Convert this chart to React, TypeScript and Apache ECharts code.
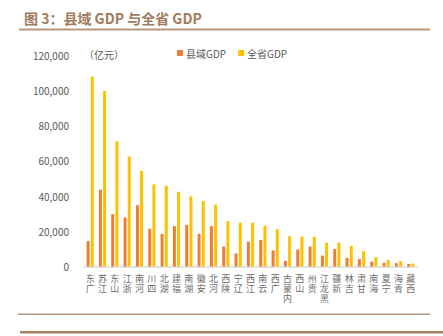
import React, { useEffect, useRef } from "react";
import * as echarts from "echarts";

const provinces = ["广东", "江苏", "山东", "浙江", "河南", "四川", "湖北", "福建", "湖南", "安徽", "河北", "陕西", "辽宁", "江西", "云南", "广西", "内蒙古", "山西", "贵州", "黑龙江", "新疆", "吉林", "甘肃", "海南", "宁夏", "青海", "西藏"];
const countyGDP = [14500, 43600, 29700, 27800, 34800, 21400, 18500, 22900, 23600, 18500, 22900, 11300, 7400, 14100, 15100, 9100, 3200, 9600, 11300, 6200, 9900, 4900, 4200, 2700, 2100, 1900, 1500];
const provinceGDP = [107700, 99600, 71100, 62400, 54300, 46600, 45800, 42400, 39800, 37100, 35100, 25800, 24900, 24800, 23200, 21200, 17200, 17000, 16800, 13600, 13600, 11700, 8700, 5300, 3700, 3000, 1700];
const yTicks = [0, 20000, 40000, 60000, 80000, 100000, 120000];

const FONT = "'Noto Sans CJK SC', 'Noto Sans', sans-serif";

// Labels are written bottom-to-top with upright characters: row r (from the axis) shows
// the r-th character counted from the end of the name.
const rowChar = (name: string, row: number) => {
  const chars = name.split("").reverse();
  return chars[row] ?? "";
};

const makeXAxis = (row: number) => ({
  type: "category",
  data: provinces,
  position: "bottom",
  axisLine: row === 0 ? { show: true, lineStyle: { color: "#D9D9D9", width: 1.5 } } : { show: false },
  axisTick: { show: false },
  splitLine: { show: false },
  axisLabel: {
    interval: 0,
    margin: 7 + row * 10,
    fontFamily: FONT,
    fontSize: 9,
    color: "#6E6E6E",
    verticalAlign: "top",
    formatter: (v: string) => rowChar(v, row),
  },
});

export default function App() {
  const ref = useRef<HTMLDivElement>(null);
  useEffect(() => {
    if (!ref.current) return;
    const chart = echarts.init(ref.current, undefined, { renderer: "svg" });
    chart.setOption({
      animation: false,
      backgroundColor: "#ffffff",
      title: {
        text: "图 3：县域 GDP 与全省 GDP",
        left: 19,
        top: 6,
        textStyle: { fontFamily: FONT, fontSize: 14, fontWeight: "bold", color: "#A07B5C" },
      },
      legend: {
        top: 43,
        left: 172,
        itemWidth: 6,
        itemHeight: 6,
        itemGap: 12,
        icon: "rect",
        textStyle: { fontFamily: FONT, fontSize: 10, color: "#595959", padding: [0, 0, 0, -2] },
        data: ["县域GDP", "全省GDP"],
      },
      graphic: [
        { type: "rect", shape: { x: 19, y: 28.5, width: 411, height: 2 }, style: { fill: "#B8977A" } },
        { type: "rect", shape: { x: 18, y: 313.5, width: 412, height: 1.5 }, style: { fill: "#B8977A" } },
        { type: "rect", shape: { x: 20, y: 331, width: 423, height: 2.5 }, style: { fill: "#A6805F" } },
        { type: "text", x: 84, y: 49, style: { text: "（亿元）", fontFamily: FONT, fontSize: 10, fill: "#595959" } },
      ],
      grid: { left: 84, right: 26, top: 55, bottom: 69.5, containLabel: false },
      xAxis: [makeXAxis(0), makeXAxis(1), makeXAxis(2)],
      yAxis: {
        type: "value",
        min: 0,
        max: 120000,
        interval: 20000,
        splitLine: { show: false },
        axisLine: { show: false },
        axisTick: { show: false },
        axisLabel: {
          margin: 15,
          fontFamily: FONT,
          fontSize: 10,
          color: "#595959",
          formatter: (v: number) => (yTicks.includes(v) ? v.toLocaleString("en-US") : ""),
        },
      },
      series: [
        {
          name: "县域GDP",
          type: "bar",
          xAxisIndex: 0,
          data: countyGDP,
          barWidth: 3,
          barGap: "40%",
          itemStyle: { color: "#ED7D31" },
        },
        {
          name: "全省GDP",
          type: "bar",
          xAxisIndex: 0,
          data: provinceGDP,
          barWidth: 3,
          itemStyle: { color: "#FFC000" },
        },
      ],
    });
    return () => chart.dispose();
  }, []);
  return <div ref={ref} style={{ width: 443, height: 336, position: "absolute", left: 0, top: 0 }} />;
}
